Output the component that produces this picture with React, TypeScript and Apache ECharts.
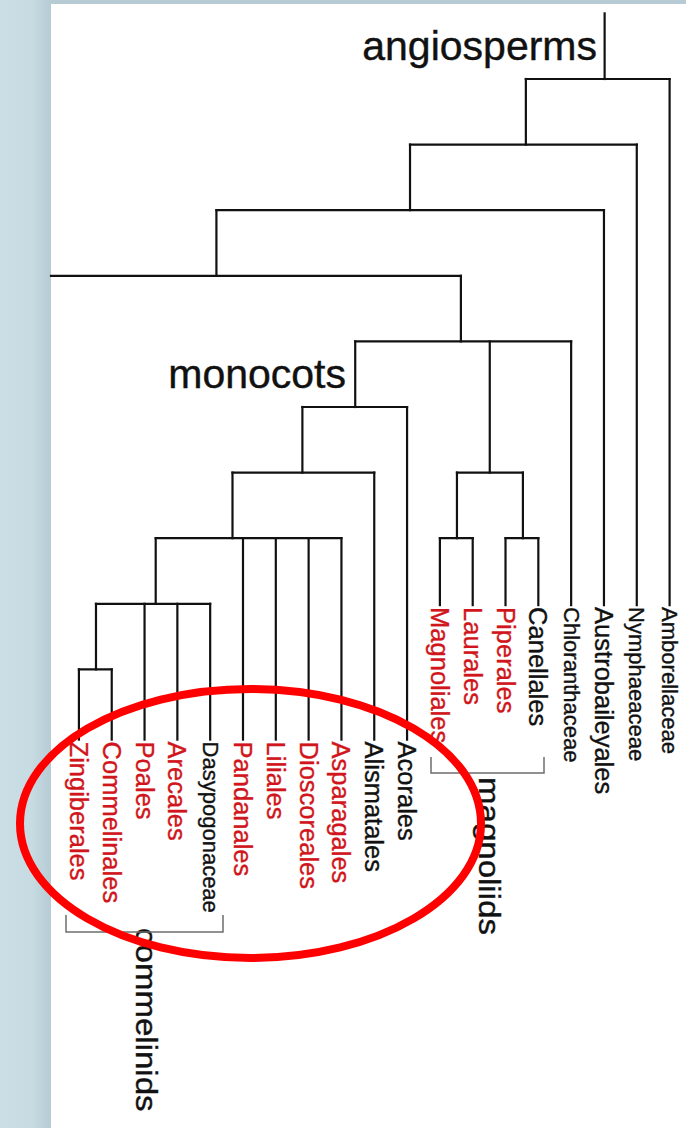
import React, { useEffect, useRef } from "react";
import * as echarts from "echarts";

// ---- leaves (left to right) ----
const leaves = [
  "Zingiberales", "Commelinales", "Poales", "Arecales", "Dasypogonaceae",
  "Pandanales", "Liliales", "Dioscoreales", "Asparagales", "Alismatales",
  "Acorales", "Magnoliales", "Laurales", "Piperales", "Canellales",
  "Chloranthaceae", "Austrobaileyales", "Nymphaeaceae", "Amborellaceae",
];
const leafHighlighted = [
  true, true, true, true, false,
  true, true, true, true, false,
  false, true, true, true, false,
  false, false, false, false,
];
const leafFamily = [
  false, false, false, false, true,
  false, false, false, false, false,
  false, false, false, false, false,
  true, false, true, true,
];
const leafParent = [
  "ZC", "ZC", "commelinids", "commelinids", "commelinids",
  "M3", "M3", "M3", "M3", "M2",
  "monocots", "Mag1", "Mag1", "Mag2", "Mag2",
  "D", "B", "A", "root",
];
const leafTipDepth = [
  11.07, 11.07, 11.07, 11.07, 11.07,
  11.07, 11.07, 11.07, 11.07, 11.07,
  11.07, 9.02, 9.02, 9.02, 9.02,
  9.02, 9.02, 9.02, 9.02,
];

// ---- internal nodes ----
const nodeNames = ["root", "A", "B", "C", "D", "monocots", "M2", "M3", "commelinids", "ZC", "magnoliids", "Mag1", "Mag2"];
const nodeX = [16.02, 13.62, 10.09, 4.19, 11.64, 8.42, 6.81, 4.68, 2.34, 0.52, 12.52, 11.52, 13.53];
const nodeDepth = [1, 2, 3, 4, 5, 6, 7, 8, 9, 10, 7, 8, 8];
const nodeParent = ["", "root", "A", "B", "C", "D", "monocots", "M2", "M3", "commelinids", "D", "magnoliids", "magnoliids"];
const rootStemTop = 0;
// sibling of node C that is cropped off at the panel edge
const croppedSibling = { parent: "C", x: -0.85 };

const FONT = '"Liberation Sans", Arial, Helvetica, sans-serif';

function buildSegments() {
  const idx: Record<string, number> = {};
  nodeNames.forEach((n, i) => (idx[n] = i));
  const segs: number[][] = [];
  const childXs: Record<string, number[]> = {};
  nodeNames.forEach((n) => (childXs[n] = []));
  nodeNames.forEach((n, i) => {
    const p = nodeParent[i];
    const top = p ? nodeDepth[idx[p]] : rootStemTop;
    segs.push([nodeX[i], top, nodeX[i], nodeDepth[i]]);
    if (p) childXs[p].push(nodeX[i]);
  });
  leaves.forEach((_, i) => {
    const p = leafParent[i];
    segs.push([i, nodeDepth[idx[p]], i, leafTipDepth[i]]);
    childXs[p].push(i);
  });
  childXs[croppedSibling.parent].push(croppedSibling.x);
  nodeNames.forEach((n, i) => {
    const xs = childXs[n];
    segs.push([Math.min(...xs), nodeDepth[i], Math.max(...xs), nodeDepth[i]]);
  });
  return segs;
}

function cladeText(text: string, x: number, y: number, size: number, rotated: boolean, align: string) {
  return {
    type: "text", z: 10, x, y, silent: true,
    rotation: rotated ? -Math.PI / 2 : 0,
    scaleX: rotated ? 1.14 : 1,
    style: {
      text, fill: "#111", stroke: "#111", lineWidth: 0.4, fontSize: size, fontFamily: FONT,
      align, textAlign: align, verticalAlign: "middle", textVerticalAlign: "middle",
    },
  };
}

export default function App() {
  const ref = useRef<HTMLDivElement>(null);
  useEffect(() => {
    if (!ref.current) return;
    const chart = echarts.init(ref.current, undefined, { renderer: "svg" });
    const segs = buildSegments();
    const leafData = leaves.map((_, i) => [i, leafTipDepth[i]]);
    const option: any = {
      animation: false,
      grid: { left: 46.1, top: 13.4, width: 641.55, height: 1049.6 },
      xAxis: { type: "value", min: -1, max: 18.5, show: false },
      yAxis: { type: "value", min: 0, max: 16, inverse: true, show: false },
      graphic: [
        { type: "rect", z: -10, silent: true, shape: { x: 51, y: 4, width: 700, height: 1200 }, style: { fill: "#ffffff" } },
        cladeText("angiosperms", 597, 46, 41, false, "right"),
        cladeText("monocots", 346, 374, 41, false, "right"),
        cladeText("magnoliids", 489, 777, 29, true, "left"),
        cladeText("commelinids", 146, 928, 29, true, "left"),
        {
          type: "polyline", z: 10, silent: true,
          shape: { points: [[431, 757], [431, 773], [544, 773], [544, 757]] },
          style: { stroke: "#6e6e6e", lineWidth: 1.5, fill: "none" },
        },
        {
          type: "polyline", z: 10, silent: true,
          shape: { points: [[66, 915], [66, 932], [223, 932], [223, 915]] },
          style: { stroke: "#6e6e6e", lineWidth: 1.5, fill: "none" },
        },
        {
          type: "ellipse", z: 100, silent: true,
          shape: { cx: 250.5, cy: 823.5, rx: 230.5, ry: 134.5 },
          style: { stroke: "#ff0000", lineWidth: 8, fill: "none" },
        },
      ],
      series: [
        {
          type: "custom",
          silent: true,
          clip: false,
          data: segs,
          encode: { x: [0, 2], y: [1, 3] },
          renderItem: (params: any, api: any) => {
            const a = api.coord([api.value(0), api.value(1)]);
            const b = api.coord([api.value(2), api.value(3)]);
            return {
              type: "line",
              shape: { x1: a[0], y1: a[1], x2: b[0], y2: b[1] },
              style: { stroke: "#111", lineWidth: 2.2, lineCap: "square" },
            };
          },
        },
        {
          type: "custom",
          silent: true,
          clip: false,
          data: leafData,
          encode: { x: 0, y: 1 },
          renderItem: (params: any, api: any) => {
            const i = params.dataIndex;
            const p = api.coord([api.value(0), api.value(1)]);
            const col = leafHighlighted[i] ? "#d0161c" : "#111";
            return {
              type: "text",
              x: p[0],
              y: p[1] + 2,
              rotation: -Math.PI / 2,
              style: {
                text: leaves[i],
                fill: col,
                stroke: col,
                lineWidth: 0.35,
                fontSize: leafFamily[i] ? 22 : 25.5,
                fontFamily: FONT,
                align: "left",
                textAlign: "left",
                verticalAlign: "middle",
                textVerticalAlign: "middle",
              },
            };
          },
        },
      ],
    };
    chart.setOption(option);
    return () => chart.dispose();
  }, []);
  return (
    <div
      ref={ref}
      style={{
        position: "fixed",
        left: 0,
        top: 0,
        width: 686,
        height: 1128,
        background: "linear-gradient(to right, #cbdee5 0px, #c7dbe2 32px, #bcd1d9 44px, #b6cbd3 51px)",
      }}
    />
  );
}
